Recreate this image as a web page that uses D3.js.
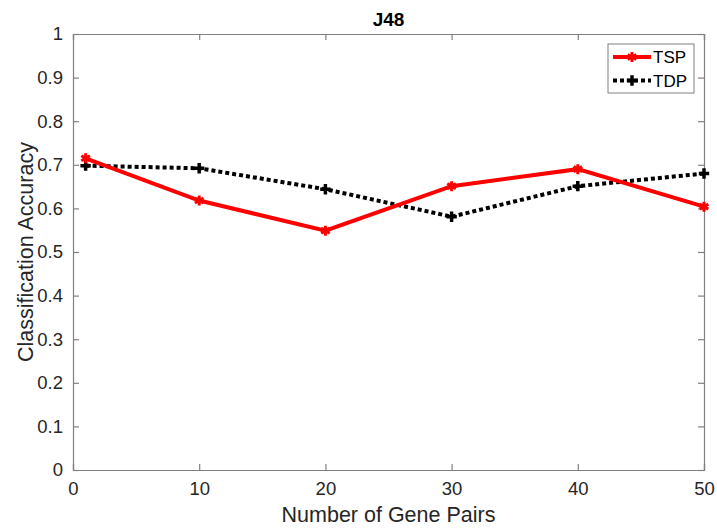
<!DOCTYPE html>
<html>
<head>
<meta charset="utf-8">
<script src="https://cdn.jsdelivr.net/npm/d3@7"></script>
<style>
  body { margin: 0; background: #fff; }
  text { font-family: Helvetica, "Liberation Sans", Arial, sans-serif; }
</style>
</head>
<body>
<div id="chart"></div>
<script>
// Data
let genePairs = [1, 10, 20, 30, 40, 50];
let tspAcc = [0.715, 0.618, 0.549, 0.651, 0.690, 0.604];
let tdpAcc = [0.698, 0.692, 0.644, 0.581, 0.651, 0.680];
let xTicks = [0, 10, 20, 30, 40, 50];
let yTicks = [0, 0.1, 0.2, 0.3, 0.4, 0.5, 0.6, 0.7, 0.8, 0.9, 1];

// Layout
let margin = { top: 34, right: 13, bottom: 61, left: 73 };
let svgWidth = 717, svgHeight = 531;
let chartWidth = svgWidth - margin.left - margin.right;
let chartHeight = svgHeight - margin.top - margin.bottom;

let svg = d3.select('#chart')
            .append('svg')
            .attr('width', svgWidth)
            .attr('height', svgHeight);

let chartGrp = svg.append('g')
            .attr('transform', `translate(${margin.left}, ${margin.top})`);

let xScale = d3.scaleLinear().domain([0, 50]).range([0, chartWidth]);
let yScale = d3.scaleLinear().domain([0, 1]).range([chartHeight, 0]);

let axisColor = '#808080', labelColor = '#262626';
let fmt = d => d3.format('~g')(d);

// Axes, inward ticks, box style
let xAxis = d3.axisBottom(xScale).tickValues(xTicks).tickSize(-6).tickPadding(12).tickFormat(fmt);
let yAxis = d3.axisLeft(yScale).tickValues(yTicks).tickSize(-6).tickPadding(10).tickFormat(fmt);
let xTop = d3.axisTop(xScale).tickValues(xTicks).tickSize(-6).tickFormat('');
let yRight = d3.axisRight(yScale).tickValues(yTicks).tickSize(-6).tickFormat('');

function styleAxis(g) {
    g.selectAll('path, line').attr('stroke', axisColor).attr('stroke-width', 1.2);
    g.selectAll('text').attr('fill', labelColor).style('font-size', '18.5px');
}

chartGrp.append('g').attr('transform', `translate(0, ${chartHeight})`).call(xAxis).call(styleAxis);
chartGrp.append('g').call(yAxis).call(styleAxis);
chartGrp.append('g').call(xTop).call(styleAxis);
chartGrp.append('g').attr('transform', `translate(${chartWidth}, 0)`).call(yRight).call(styleAxis);

// Lines
let line = d3.line().x((d, i) => xScale(genePairs[i])).y(d => yScale(d));

chartGrp.append('path')
    .datum(tdpAcc)
    .attr('d', line)
    .attr('fill', 'none')
    .attr('stroke', '#000')
    .attr('stroke-width', 4)
    .attr('stroke-dasharray', '4,3');

chartGrp.append('path')
    .datum(tspAcc)
    .attr('d', line)
    .attr('fill', 'none')
    .attr('stroke', '#ff0000')
    .attr('stroke-width', 4);

// Markers
let star = d3.symbol().type(d3.symbolAsterisk).size(70);
let plus = d3.symbol().type(d3.symbolCross).size(60);

chartGrp.selectAll('.tdp-mark')
    .data(tdpAcc)
    .enter()
    .append('path')
    .attr('class', 'tdp-mark')
    .attr('transform', (d, i) => `translate(${xScale(genePairs[i])}, ${yScale(d)})`)
    .attr('d', plus)
    .attr('fill', '#000');

chartGrp.selectAll('.tsp-mark')
    .data(tspAcc)
    .enter()
    .append('path')
    .attr('class', 'tsp-mark')
    .attr('transform', (d, i) => `translate(${xScale(genePairs[i])}, ${yScale(d)})`)
    .attr('d', star)
    .attr('fill', 'none')
    .attr('stroke', '#ff0000')
    .attr('stroke-width', 3);

// Legend
let legend = svg.append('g').attr('transform', 'translate(608, 44)');
legend.append('rect')
    .attr('width', 86).attr('height', 49)
    .attr('fill', '#fff').attr('stroke', axisColor).attr('stroke-width', 1);

let legendItems = [
    { name: 'TSP', color: '#ff0000', dash: null, mark: star, fill: 'none', stroke: '#ff0000' },
    { name: 'TDP', color: '#000', dash: '4,3', mark: plus, fill: '#000', stroke: 'none' }
];
legendItems.forEach((it, i) => {
    let y = 13 + i * 23.5;
    legend.append('line')
        .attr('x1', 5).attr('x2', 43).attr('y1', y).attr('y2', y)
        .attr('stroke', it.color).attr('stroke-width', 4)
        .attr('stroke-dasharray', it.dash);
    legend.append('path')
        .attr('transform', `translate(24, ${y})`)
        .attr('d', it.mark)
        .attr('fill', it.fill)
        .attr('stroke', it.stroke)
        .attr('stroke-width', 3);
    legend.append('text')
        .attr('x', 45).attr('y', y + 6)
        .attr('fill', '#000')
        .style('font-size', '17px')
        .text(it.name);
});

// Title and axis labels
svg.append('text')
    .attr('x', margin.left + chartWidth / 2).attr('y', 26)
    .attr('text-anchor', 'middle')
    .attr('fill', '#000')
    .style('font-size', '19px').style('font-weight', 'bold')
    .text('J48');

svg.append('text')
    .attr('x', margin.left + chartWidth / 2).attr('y', 522)
    .attr('text-anchor', 'middle')
    .attr('fill', labelColor)
    .style('font-size', '21.5px')
    .text('Number of Gene Pairs');

svg.append('text')
    .attr('transform', `translate(33, ${margin.top + chartHeight / 2}) rotate(-90)`)
    .attr('text-anchor', 'middle')
    .attr('fill', labelColor)
    .style('font-size', '21.5px')
    .text('Classification Accuracy');
</script>
</body>
</html>
